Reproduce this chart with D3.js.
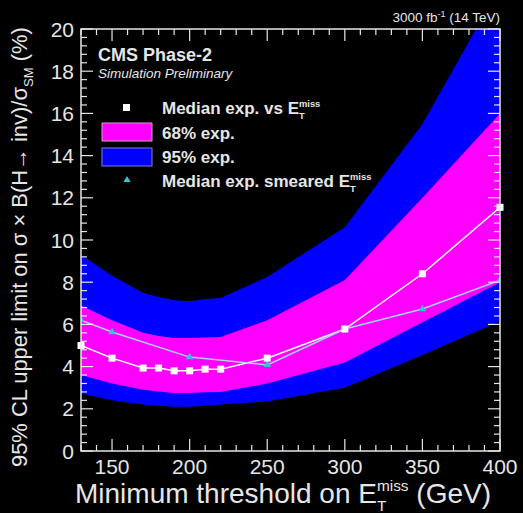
<!DOCTYPE html>
<html>
<head>
<meta charset="utf-8">
<script src="https://cdn.jsdelivr.net/npm/d3@7"></script>
<style>
  html, body { margin: 0; padding: 0; background: #000; }
  svg { display: block; font-family: "Liberation Sans", Arial, Helvetica, sans-serif; }
</style>
</head>
<body>
<svg id="chart"></svg>
<script>
const width = 523;
const height = 513;

// MET threshold points (GeV)
const thresholds = [130, 150, 170, 180, 190, 200, 210, 220, 250, 300, 350, 400];
// median expected limit (%) vs E_T^miss
const medianExp = [5.0, 4.4, 3.93, 3.93, 3.8, 3.8, 3.88, 3.88, 4.4, 5.78, 8.4, 11.55];
// 68% band
const band68Low = [3.6, 3.2, 2.9, 2.82, 2.75, 2.75, 2.78, 2.8, 3.2, 4.2, 6.1, 8.0];
const band68High = [6.9, 6.2, 5.6, 5.45, 5.35, 5.35, 5.38, 5.4, 6.2, 8.1, 12.0, 16.0];
// 95% band
const band95Low = [2.72, 2.4, 2.2, 2.15, 2.1, 2.1, 2.15, 2.2, 2.35, 3.0, 4.55, 6.15];
const band95High = [9.3, 8.3, 7.5, 7.3, 7.15, 7.1, 7.2, 7.25, 8.25, 10.6, 15.5, 22.0];
// median expected with smeared MET
const smearedX = [130, 150, 200, 250, 300, 350, 400];
const smearedExp = [6.2, 5.64, 4.45, 4.08, 5.78, 6.73, 8.1];

const xTicks = [150, 200, 250, 300, 350, 400];
const yTicks = [0, 2, 4, 6, 8, 10, 12, 14, 16, 18, 20];

const plot = { left: 81, right: 500, top: 29, bottom: 451 };
const fg = "#e6e6e6";

const svg = d3.select('#chart').attr('width', width).attr('height', height);
svg.append('rect').attr('width', width).attr('height', height).attr('fill', '#000');

const x = d3.scaleLinear().domain([130, 400]).range([plot.left, plot.right]);
const y = d3.scaleLinear().domain([0, 20]).range([plot.bottom, plot.top]);

svg.append('clipPath').attr('id', 'clip')
    .append('rect')
    .attr('x', plot.left).attr('y', plot.top)
    .attr('width', plot.right - plot.left).attr('height', plot.bottom - plot.top);

const g = svg.append('g').attr('clip-path', 'url(#clip)');

function band(lo, hi) {
    return d3.area()
        .x((d, i) => x(thresholds[i]))
        .y0((d, i) => y(lo[i]))
        .y1((d, i) => y(hi[i]))(thresholds);
}

g.append('path').attr('d', band(band95Low, band95High)).attr('fill', '#0000ff');
g.append('path').attr('d', band(band68Low, band68High)).attr('fill', '#ff00ff');

const line = d3.line();
g.append('path')
    .attr('d', line(thresholds.map((t, i) => [x(t), y(medianExp[i])])))
    .attr('fill', 'none').attr('stroke', '#ffffff').attr('stroke-width', 1.5);
g.append('path')
    .attr('d', line(smearedX.map((t, i) => [x(t), y(smearedExp[i])])))
    .attr('fill', 'none').attr('stroke', '#9fd6f5').attr('stroke-width', 1.5);

// markers
svg.append('g').selectAll('rect')
    .data(thresholds)
    .enter().append('rect')
    .attr('x', (d) => x(d) - 3.5)
    .attr('y', (d, i) => y(medianExp[i]) - 3.5)
    .attr('width', 7).attr('height', 7)
    .attr('fill', '#ffffff');

const tri = d3.symbol().type(d3.symbolTriangle).size(24);
g.append('g').selectAll('path')
    .data(smearedX)
    .enter().append('path')
    .attr('d', tri)
    .attr('transform', (d, i) => `translate(${x(d)},${y(smearedExp[i])})`)
    .attr('fill', '#2fc6d6');

// frame
svg.append('rect')
    .attr('x', plot.left).attr('y', plot.top)
    .attr('width', plot.right - plot.left).attr('height', plot.bottom - plot.top)
    .attr('fill', 'none').attr('stroke', fg).attr('stroke-width', 1.5);

// ticks, inward on all four sides
const ticks = svg.append('g').attr('stroke', fg).attr('stroke-width', 1.2);
d3.range(130, 401, 10).forEach(v => {
    const len = v % 50 === 0 ? 12 : 6;
    ticks.append('line').attr('x1', x(v)).attr('x2', x(v)).attr('y1', plot.bottom).attr('y2', plot.bottom - len);
    ticks.append('line').attr('x1', x(v)).attr('x2', x(v)).attr('y1', plot.top).attr('y2', plot.top + len);
});
d3.range(0, 51).forEach(k => {
    const v = k * 0.4;
    const len = k % 5 === 0 ? 12 : 6;
    ticks.append('line').attr('y1', y(v)).attr('y2', y(v)).attr('x1', plot.left).attr('x2', plot.left + len);
    ticks.append('line').attr('y1', y(v)).attr('y2', y(v)).attr('x1', plot.right).attr('x2', plot.right - len);
});

// tick labels
svg.append('g').selectAll('text')
    .data(xTicks)
    .enter().append('text')
    .attr('x', d => x(d)).attr('y', 474)
    .attr('text-anchor', 'middle')
    .attr('fill', fg).attr('font-size', 21)
    .text(d => d);

svg.append('g').selectAll('text')
    .data(yTicks)
    .enter().append('text')
    .attr('x', 74).attr('y', d => y(d) + 7.5)
    .attr('text-anchor', 'end')
    .attr('fill', fg).attr('font-size', 21)
    .text(d => d);

// E_T^miss helper: subscript T and superscript miss stacked
function addEt(textSel, size, after) {
    textSel.append('tspan').text('E');
    const sub = textSel.append('tspan').attr('font-size', size * 0.55).attr('dy', size * 0.28).text('T');
    const tw = sub.node().getComputedTextLength();
    textSel.append('tspan').attr('font-size', size * 0.55).attr('dx', -tw).attr('dy', -size * 0.72).text('miss');
    textSel.append('tspan').attr('dy', size * 0.44).text(after);
}

// x axis title
const xt = svg.append('text')
    .attr('x', 75).attr('y', 503)
    .attr('fill', fg).attr('font-size', 28)
    .text('Minimum threshold on ');
addEt(xt, 28, ' (GeV)');

// y axis title, fitted to span y 27..467
const yt = svg.append('text')
    .attr('fill', fg).attr('font-size', 20);
yt.append('tspan').text('95% CL upper limit on σ × B(H→ inv)/σ');
yt.append('tspan').attr('font-size', 12).attr('dy', 6).text('SM');
yt.append('tspan').attr('dy', -6).text(' (%)');
const yLen = yt.node().getBBox().width;
const yFont = 20 * 440 / yLen;
yt.attr('font-size', yFont);
yt.selectAll('tspan').filter((d, i) => i === 1).attr('font-size', yFont * 0.6);
yt.attr('transform', 'translate(27,467) rotate(-90)');

// top labels
svg.append('text')
    .attr('x', 500).attr('y', 22)
    .attr('text-anchor', 'end')
    .attr('fill', fg).attr('font-size', 13.5)
    .html('3000 fb<tspan dy="-5" font-size="9">-1</tspan><tspan dy="5"> (14 TeV)</tspan>');

svg.append('text')
    .attr('x', 98).attr('y', 61)
    .attr('fill', fg).attr('font-size', 18).attr('font-weight', 'bold')
    .text('CMS Phase-2');
svg.append('text')
    .attr('x', 98).attr('y', 78)
    .attr('fill', fg).attr('font-size', 13.5).attr('font-style', 'italic')
    .text('Simulation Preliminary');

// legend
const legend = svg.append('g').attr('fill', fg).attr('font-size', 17).attr('font-weight', 'bold');
legend.append('rect').attr('x', 123).attr('y', 104).attr('width', 7).attr('height', 7).attr('fill', '#ffffff');
addEt(legend.append('text').attr('x', 162).attr('y', 114).text('Median exp. vs '), 17, '');
legend.append('rect').attr('x', 102).attr('y', 123).attr('width', 50).attr('height', 18)
    .attr('fill', '#ff00ff').attr('stroke', '#d0a0d0').attr('stroke-width', 1);
legend.append('text').attr('x', 162).attr('y', 139).text('68% exp.');
legend.append('rect').attr('x', 102).attr('y', 148).attr('width', 50).attr('height', 18)
    .attr('fill', '#0000ff').attr('stroke', '#8080d0').attr('stroke-width', 1);
legend.append('text').attr('x', 162).attr('y', 163).text('95% exp.');
legend.append('path').attr('d', d3.symbol().type(d3.symbolTriangle).size(22))
    .attr('transform', 'translate(127,180)').attr('fill', '#2fc6d6');
addEt(legend.append('text').attr('x', 162).attr('y', 187).text('Median exp. smeared '), 17, '');
</script>
</body>
</html>
